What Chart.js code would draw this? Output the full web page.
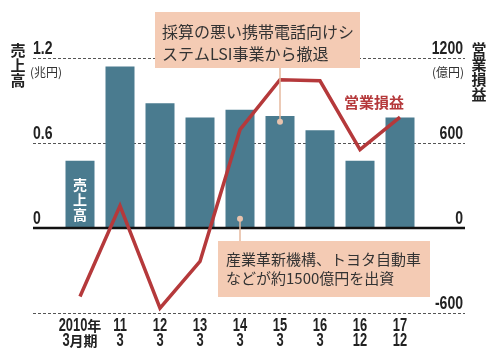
<!DOCTYPE html>
<html>
<head>
<meta charset="utf-8">
<script src="https://cdn.jsdelivr.net/npm/chart.js@4.4.1/dist/chart.umd.min.js"></script>
<style>
html,body{margin:0;padding:0;background:#fff;}
#wrap{width:500px;height:355px;position:relative;}
</style>
</head>
<body>
<div id="wrap"><canvas id="c" width="500" height="355"></canvas></div>
<script>
// ---- data ----
const categoryTop = ["2010年","11","12","13","14","15","16","16","17"];
const categoryBottom = ["3月期","3","3","3","3","3","3","12","12"];
const sales = [0.475, 1.14, 0.88, 0.78, 0.835, 0.79, 0.69, 0.475, 0.78];       // 兆円
const operatingIncome = [-483, 157, -565, -236, 694, 1047, 1039, 553, 783];     // 億円
const leftTickValues = [1.2, 0.6, 0];
const leftTickLabels = ["1.2", "0.6", "0"];
const rightTickValues = [1200, 600, 0, -600];
const rightTickLabels = ["1200", "600", "0", "-600"];
const dashedGridValues = [1.2, 0.6, -0.6];

const NUM_FONT = '"Liberation Sans","Noto Sans CJK JP",sans-serif';
const JP_FONT = '"Noto Sans CJK JP","Noto Sans",sans-serif';
const BAR_COLOR = '#4a7b8f';
const LINE_COLOR = '#b5393b';
const BOX_COLOR = '#f4cbb4';
const CONNECT_COLOR = '#e6b89e';
const TEXT_COLOR = '#222';

function condText(ctx, text, x, y, sx) {
  ctx.save();
  ctx.translate(x, y);
  ctx.scale(sx, 1);
  ctx.fillText(text, 0, 0);
  ctx.restore();
}

// centered label: ASCII runs condensed, CJK runs normal width
function mixedCentered(ctx, text, cx, y) {
  const runs = text.match(/[\x00-\x7f]+|[^\x00-\x7f]+/g) || [];
  const numFont = 'bold 19px ' + NUM_FONT, jpFont = 'bold 14px ' + JP_FONT, sx = 0.68;
  const parts = runs.map(r => {
    const ascii = /^[\x00-\x7f]+$/.test(r);
    ctx.font = ascii ? numFont : jpFont;
    const w = ctx.measureText(r).width * (ascii ? sx : 1);
    return { r, ascii, w };
  });
  const total = parts.reduce((a, p) => a + p.w, 0);
  let px = cx - total / 2;
  ctx.save();
  ctx.textAlign = 'left';
  parts.forEach(p => {
    ctx.font = p.ascii ? numFont : jpFont;
    if (p.ascii) condText(ctx, p.r, px, y, sx); else ctx.fillText(p.r, px, y);
    px += p.w;
  });
  ctx.restore();
}

const deco = {
  id: 'deco',
  beforeDatasetsDraw(chart) {
    const ctx = chart.ctx, y = chart.scales.y;
    ctx.save();
    ctx.strokeStyle = '#555';
    ctx.lineWidth = 1;
    ctx.setLineDash([3, 2]);
    dashedGridValues.forEach(v => {
      const py = Math.round(y.getPixelForValue(v)) + 0.5;
      ctx.beginPath(); ctx.moveTo(33, py); ctx.lineTo(465, py); ctx.stroke();
    });
    ctx.restore();
  },
  afterDatasetDraw(chart, args) {
    if (args.index !== 0) return; // after bars
    const ctx = chart.ctx, y = chart.scales.y;
    ctx.save();
    const py = y.getPixelForValue(0);
    ctx.strokeStyle = '#111';
    ctx.lineWidth = 2.5;
    ctx.beginPath(); ctx.moveTo(33, py); ctx.lineTo(465, py); ctx.stroke();
    ctx.restore();
  },
  afterDraw(chart) {
    const ctx = chart.ctx, x = chart.scales.x, y = chart.scales.y, y1 = chart.scales.y1;
    ctx.save();
    // axis tick labels
    ctx.fillStyle = TEXT_COLOR;
    ctx.font = 'bold 18px ' + NUM_FONT;
    ctx.textBaseline = 'middle';
    ctx.textAlign = 'left';
    leftTickValues.forEach((v, i) => {
      condText(ctx, leftTickLabels[i], 33, y.getPixelForValue(v) - 9, 0.78);
    });
    ctx.textAlign = 'right';
    rightTickValues.forEach((v, i) => {
      condText(ctx, rightTickLabels[i], 463, y1.getPixelForValue(v) - 9, 0.78);
    });
    // category labels
    categoryTop.forEach((t, i) => {
      const px = x.getPixelForValue(i);
      mixedCentered(ctx, t, px, 326);
      mixedCentered(ctx, categoryBottom[i], px, 341);
    });
    // axis titles
    ctx.fillStyle = TEXT_COLOR;
    ctx.font = 'bold 15px ' + JP_FONT;
    ctx.textAlign = 'center';
    ['売','上','高'].forEach((c, i) => ctx.fillText(c, 18, 50 + i * 15));
    ['営','業','損','益'].forEach((c, i) => ctx.fillText(c, 479, 49 + i * 15));
    ctx.font = '12px ' + JP_FONT;
    ctx.fillStyle = '#333';
    ctx.textAlign = 'left';
    ctx.fillText('(兆円)', 30, 72);
    ctx.textAlign = 'right';
    ctx.fillText('(億円)', 464, 72);
    // in-bar label
    ctx.fillStyle = '#fff';
    ctx.font = 'bold 14px ' + JP_FONT;
    ctx.textAlign = 'center';
    const bx = x.getPixelForValue(0);
    ['売','上','高'].forEach((c, i) => ctx.fillText(c, bx, 185 + i * 15));
    // series label
    ctx.fillStyle = LINE_COLOR;
    ctx.font = 'bold 15px ' + JP_FONT;
    ctx.fillText('営業損益', 374, 102);

    // annotation 1
    const d1x = x.getPixelForValue(5), d1y = y.getPixelForValue(0.75);
    ctx.strokeStyle = CONNECT_COLOR; ctx.lineWidth = 1.5;
    ctx.beginPath(); ctx.moveTo(d1x, 68); ctx.lineTo(d1x, d1y); ctx.stroke();
    ctx.fillStyle = BOX_COLOR;
    ctx.fillRect(155, 12, 205, 56);
    ctx.fillStyle = '#e9c3ad';
    ctx.beginPath(); ctx.arc(d1x, d1y, 3, 0, Math.PI * 2); ctx.fill();
    ctx.fillStyle = '#333';
    ctx.font = '16px ' + JP_FONT;
    ctx.textAlign = 'left';
    ctx.fillText('採算の悪い携帯電話向けシ', 162, 32);
    ctx.fillText('ステムLSI事業から撤退', 162, 54);

    // annotation 2
    const d2x = x.getPixelForValue(4), d2y = y.getPixelForValue(0.065);
    ctx.strokeStyle = CONNECT_COLOR; ctx.lineWidth = 1.5;
    ctx.beginPath(); ctx.moveTo(d2x, d2y); ctx.lineTo(d2x, 241); ctx.stroke();
    ctx.fillStyle = '#e9c3ad';
    ctx.beginPath(); ctx.arc(d2x, d2y, 3, 0, Math.PI * 2); ctx.fill();
    ctx.fillStyle = BOX_COLOR;
    ctx.fillRect(218, 241, 212, 56);
    ctx.fillStyle = '#333';
    ctx.font = '15px ' + JP_FONT;
    ctx.fillText('産業革新機構、トヨタ自動車', 226, 259);
    ctx.fillText('などが約1500億円を出資', 226, 278);
    ctx.restore();
  }
};

new Chart(document.getElementById('c'), {
  data: {
    labels: categoryTop.map((t, i) => [t, categoryBottom[i]]),
    datasets: [
      {
        type: 'bar', label: '売上高', data: sales, yAxisID: 'y',
        backgroundColor: BAR_COLOR, barPercentage: 0.725, categoryPercentage: 1.0,
        order: 2
      },
      {
        type: 'line', label: '営業損益', data: operatingIncome, yAxisID: 'y1',
        borderColor: LINE_COLOR, borderWidth: 3.5, pointRadius: 0, tension: 0,
        borderJoinStyle: 'miter', fill: false, order: 1, clip: false
      }
    ]
  },
  options: {
    responsive: false,
    animation: false,
    events: [],
    layout: { padding: { left: 60, right: 80, top: 58, bottom: 42 } },
    plugins: { legend: { display: false }, tooltip: { enabled: false } },
    scales: {
      x: { display: false, offset: true, grid: { display: false } },
      y: { display: false, min: -0.6, max: 1.2 },
      y1: { display: false, min: -600, max: 1200, position: 'right' }
    }
  },
  plugins: [deco]
});
</script>
</body>
</html>
